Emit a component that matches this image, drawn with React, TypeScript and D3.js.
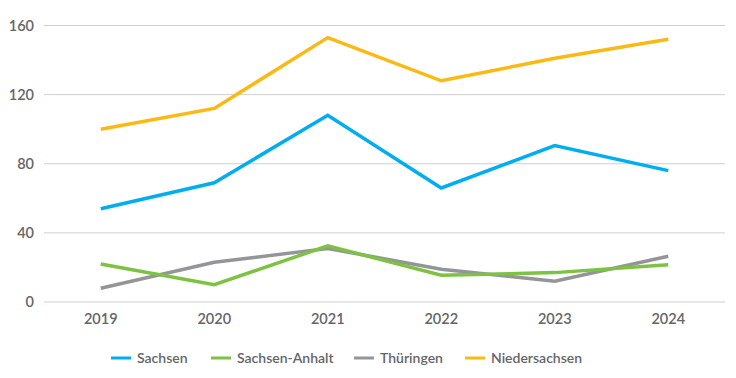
import React from "react";
import * as d3 from "d3";

const years = ["2019", "2020", "2021", "2022", "2023", "2024"];
const yTicks = [0, 40, 80, 120, 160];
const sachsen = [54, 69, 108, 66, 90.5, 76];
const sachsenAnhalt = [22, 10, 32.5, 15.5, 17, 21.5];
const thueringen = [8, 23, 31, 19, 12, 26.5];
const niedersachsen = [100, 112, 153, 128, 141, 152];

const seriesNames = ["Sachsen", "Sachsen-Anhalt", "Thüringen", "Niedersachsen"];
const seriesColors = ["#00AEEF", "#7DC242", "#939598", "#FDB913"];

const W = 736;
const H = 378;
const left = 44;
const right = 725;
const top = 25.5;
const bottom = 302;

export default function App() {
  const x = d3.scalePoint<string>().domain(years).range([left, right]).padding(0.5);
  const y = d3.scaleLinear().domain([0, 160]).range([bottom, top]);
  const line = d3
    .line<number>()
    .x((_, i) => x(years[i]) as number)
    .y((d) => y(d));
  const data = [sachsen, sachsenAnhalt, thueringen, niedersachsen];
  const drawOrder = [2, 1, 0, 3];
  const legendX = [111, 211, 354, 465];
  const font = "Lato, 'Open Sans', sans-serif";
  const textColor = "#646567";

  return (
    <svg width={W} height={H} style={{ position: "absolute", left: 0, top: 0 }}>
      <rect width={W} height={H} fill="#fff" />
      {yTicks.map((t) => (
        <g key={t}>
          <line x1={left} x2={right} y1={y(t)} y2={y(t)} stroke="#CFCFCF" strokeWidth={1} />
          <text
            x={34}
            y={y(t)}
            dy="0.35em"
            textAnchor="end"
            fontFamily={font}
            fontSize={14.5}
            fontWeight={600}
            fill={textColor}
          >
            {t}
          </text>
        </g>
      ))}
      {years.map((yr) => (
        <text
          key={yr}
          x={x(yr) as number}
          y={323.5}
          textAnchor="middle"
          fontFamily={font}
          fontSize={14.5}
          fontWeight={600}
          fill={textColor}
        >
          {yr}
        </text>
      ))}
      {drawOrder.map((i) => (
        <path
          key={seriesNames[i]}
          d={line(data[i]) || ""}
          fill="none"
          stroke={seriesColors[i]}
          strokeWidth={3.5}
          strokeLinejoin="miter"
        />
      ))}
      {seriesNames.map((n, i) => (
        <g key={n}>
          <line
            x1={legendX[i]}
            x2={legendX[i] + 20}
            y1={358}
            y2={358}
            stroke={seriesColors[i]}
            strokeWidth={3}
          />
          <text
            x={legendX[i] + 26}
            y={358}
            dy="0.35em"
            fontFamily={font}
            fontSize={14}
            fontWeight={600}
            fill={textColor}
          >
            {n}
          </text>
        </g>
      ))}
    </svg>
  );
}
